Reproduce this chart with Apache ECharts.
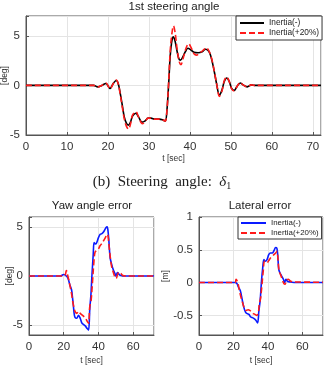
<!DOCTYPE html>
<html>
<head>
<meta charset="utf-8">
<script src="https://cdn.jsdelivr.net/npm/echarts@6/dist/echarts.min.js"></script>
<style>
html, body { margin: 0; padding: 0; background: #fff; }
#charts { width: 327px; height: 375px; }
</style>
</head>
<body>
<div id="charts"></div>
<script>
// 1st steering angle [deg] vs t [sec]
var steerBase = [[0,0],[15,0],[16.5,0],[17.5,-0.15],[18.5,0],[19.5,0.2],[20.5,-0.3],[21.3,0.2],[22,0.5],[22.5,0.2],[23,-0.8],[23.5,-2.0],[24,-3.2],[24.5,-3.8],[25,-4.0],[25.5,-3.7],[26,-3.1],[26.8,-2.8],[27.5,-3.2],[28.3,-3.7],[29,-3.6],[29.8,-3.3],[30.5,-3.3],[31.5,-3.4],[32.5,-3.4],[33.5,-3.5],[34,-3.6],[34.4,-2.5],[34.8,0],[35.2,3.0],[35.5,4.2],[35.9,4.9],[36.3,4.6],[36.8,3.6],[37.3,2.7],[37.7,2.55],[38.3,2.9],[38.9,3.4],[39.5,3.75],[40.2,3.6],[41,3.35],[42,3.3],[43,3.4],[43.8,3.65],[44.5,3.5],[45,3.1],[45.5,2.3],[46,1.3],[46.5,0.2],[47.2,-0.95],[47.8,-0.5],[48.4,0.4],[49,0.75],[49.6,0.4],[50.2,-0.3],[50.8,-0.5],[51.5,-0.1],[52.3,0.25],[53,0.05],[54,-0.15],[55,0.05],[56,0],[72,0]];
var steerHeavy = [[0,0],[15,0],[16.5,0],[17.5,-0.15],[18.5,0],[19.5,0.25],[20.5,-0.35],[21.3,0.2],[22,0.55],[22.5,0.2],[23,-0.9],[23.5,-2.2],[24,-3.4],[24.5,-4.1],[25,-4.4],[25.5,-3.9],[26,-3.0],[26.8,-2.65],[27.5,-3.2],[28.4,-3.85],[29,-3.7],[29.8,-3.3],[30.5,-3.3],[31.5,-3.4],[32.5,-3.4],[33.5,-3.5],[34,-3.6],[34.4,-2.5],[34.8,0.2],[35.2,3.5],[35.6,5.2],[36,6.0],[36.4,5.3],[36.9,3.6],[37.4,2.4],[37.8,2.1],[38.4,2.8],[39.1,3.8],[39.7,4.2],[40.3,3.8],[41,3.2],[41.6,3.05],[42.5,3.3],[43.4,3.6],[44,3.8],[44.6,3.5],[45.1,3.0],[45.6,2.2],[46.1,1.1],[46.6,0],[47.2,-1.1],[47.8,-0.6],[48.4,0.5],[49,0.85],[49.6,0.4],[50.2,-0.35],[50.8,-0.55],[51.5,-0.1],[52.3,0.3],[53,0.05],[54,-0.15],[55,0.05],[56,0],[72,0]];

// Yaw angle error [deg]
var yawBase = [[0,0],[18,0],[20,0.15],[21.5,0],[22.5,-0.25],[23.5,-0.9],[24.5,-1.4],[25,-2.1],[25.5,-2.9],[26,-3.8],[26.5,-4.2],[27.5,-4.3],[28.5,-4.0],[29.5,-4.3],[30.5,-4.8],[31.5,-4.95],[32.5,-5.1],[33.5,-5.35],[34.3,-5.5],[35,-3.4],[35.7,-1.8],[36.3,0.2],[37,2.2],[37.5,3.4],[38.3,3.25],[39,3.4],[40,3.9],[41,4.25],[42,4.3],[43,4.5],[44.3,4.9],[45,5.0],[45.5,4.6],[46,3.6],[46.7,1.9],[47.5,1.25],[48.5,0.65],[49.5,0.25],[50,0],[51,0.35],[52,0.15],[53,0.05],[55,0],[72,0]];
var yawHeavy = [[0,0],[20,0],[21,0.2],[21.5,0.55],[22.5,-0.1],[23.5,-0.9],[24.5,-1.8],[25.5,-2.9],[26.5,-3.6],[27.5,-3.8],[28.5,-3.6],[29.5,-3.8],[30.5,-3.95],[31.5,-4.1],[32.5,-4.3],[33.5,-4.6],[34.3,-4.8],[35,-3.1],[35.7,-2.6],[36.5,-0.8],[37.3,1.25],[38,2.4],[39,2.6],[40,2.75],[41,3.1],[42,3.3],[43,3.6],[44,3.9],[45,4.25],[45.5,4.1],[46,3.25],[46.7,2.1],[47.5,1.05],[48.5,0.4],[49.5,-0.1],[50.2,-0.25],[51,0.15],[52,0.4],[53,0.25],[54,0.05],[56,0],[72,0]];

// Lateral error [m]
var latBase = [[0,0],[20,0],[21,0],[22,-0.015],[23,-0.075],[24,-0.125],[25,-0.25],[26,-0.375],[27,-0.45],[28,-0.475],[29,-0.485],[30,-0.525],[31,-0.535],[32,-0.55],[33,-0.575],[34,-0.615],[34.8,-0.425],[35.5,-0.275],[36.3,0.025],[37,0.225],[37.7,0.35],[38.5,0.325],[39.5,0.35],[40.5,0.425],[41.5,0.45],[42.5,0.45],[43.5,0.485],[44.5,0.535],[45.2,0.525],[45.7,0.425],[46.3,0.2],[47,0.15],[48,0.1],[49,0.05],[49.7,0],[50.5,0.05],[51.5,0.015],[53,0.01],[56,0],[72,0]];
var latHeavy = [[0,0],[21,0],[21.5,0.05],[22.5,0],[23.5,-0.125],[24.5,-0.235],[25.5,-0.325],[26.5,-0.4],[27.5,-0.425],[28.5,-0.415],[29.5,-0.425],[30.5,-0.45],[31.5,-0.475],[32.5,-0.485],[33.5,-0.5],[34.5,-0.45],[35,-0.325],[35.7,-0.25],[36.5,-0.05],[37.3,0.175],[38,0.325],[38.8,0.315],[39.5,0.3],[40.5,0.335],[41.5,0.375],[42.5,0.4],[43.5,0.425],[44.5,0.45],[45.3,0.475],[45.8,0.375],[46.5,0.175],[47.3,0.125],[48.3,0.05],[49.3,-0.015],[50,-0.025],[50.8,0.035],[51.8,0.05],[53,0.025],[55,0.01],[72,0.005]];

var legendNames = ['Inertia(-)', 'Inertia(+20%)'];

var axisColor = '#555';
var labelColor = '#333';
var gridLineColor = '#e4e4e4';

function makeX(idx, interval, gap) {
	return {
		type: 'value', gridIndex: idx, min: 0, max: 72, interval: interval,
		name: 't [sec]', nameLocation: 'middle', nameGap: gap, nameMoveOverlap: false,
		nameTextStyle: { fontSize: 8.5, color: labelColor, fontFamily: 'Liberation Sans' },
		axisLine: { show: true, onZero: false, lineStyle: { color: axisColor } },
		axisTick: { show: true, inside: true, length: 3, lineStyle: { color: axisColor } },
		axisLabel: { fontSize: 11.5, color: labelColor, margin: 6, showMaxLabel: false, fontFamily: 'Liberation Sans' },
		splitLine: { show: true, lineStyle: { color: gridLineColor } }
	};
}

function makeY(idx, min, max, split, step, name, gap) {
	return {
		type: 'value', gridIndex: idx, min: min, max: max, splitNumber: split,
		name: name, nameLocation: 'middle', nameGap: gap, nameMoveOverlap: false,
		nameTextStyle: { fontSize: 8.5, color: labelColor, fontFamily: 'Liberation Sans' },
		axisLine: { show: true, onZero: false, lineStyle: { color: axisColor } },
		axisTick: { show: true, inside: true, length: 3, lineStyle: { color: axisColor } },
		axisLabel: { fontSize: 11.5, color: labelColor, margin: 6, fontFamily: 'Liberation Sans',
			showMinLabel: true, showMaxLabel: true,
			formatter: function (v) {
				// only round ticks get a label, not the bare extent
				var k = v / step;
				if (Math.abs(k - Math.round(k)) > 1e-6) return '';
				return v;
			}
		},
		splitLine: { show: true, lineStyle: { color: gridLineColor } }
	};
}

function line(name, data, xi, color, dashed) {
	return {
		name: name, type: 'line', xAxisIndex: xi, yAxisIndex: xi,
		data: data, symbol: 'none', showSymbol: false, smooth: 0.35,
		lineStyle: { color: color, width: 1.6, type: dashed ? [6, 3] : 'solid' },
		itemStyle: { color: color }
	};
}

var myChart = echarts.init(document.getElementById('charts'));

var titleFont = { fontSize: 11.5, fontWeight: 'normal', color: '#222', fontFamily: 'Liberation Sans' };

option = {
	animation: false,
	backgroundColor: '#fff',
	title: [
		{ text: '1st steering angle', left: 174, top: 1, padding: 0, textAlign: 'center', textStyle: titleFont },
		{ text: '{n|(b)  Steering  angle:  }{d|δ}{s|1}', left: 162, top: 173, padding: 0, textAlign: 'center',
			textStyle: { fontWeight: 'normal', rich: {
				n: { fontSize: 15, fontFamily: 'Liberation Serif', fontWeight: 'normal', color: '#222' },
				d: { fontSize: 15, fontFamily: 'Liberation Serif', fontWeight: 'normal', fontStyle: 'italic', color: '#222' },
				s: { fontSize: 10, fontFamily: 'Liberation Serif', fontWeight: 'normal', color: '#222', padding: [8, 0, 0, 0] }
			} } },
		{ text: 'Yaw angle error', left: 92, top: 200, padding: 0, textAlign: 'center', textStyle: titleFont },
		{ text: 'Lateral error', left: 260, top: 200, padding: 0, textAlign: 'center', textStyle: titleFont }
	],
	legend: [
		{ data: legendNames, orient: 'vertical', left: 236, top: 16, padding: [3, 3, 3, 3], itemGap: 2,
			itemWidth: 24, itemHeight: 8, backgroundColor: '#fff', borderColor: '#333', borderWidth: 1,
			itemStyle: { opacity: 0 },
			textStyle: { fontSize: 8.3, color: '#222', fontFamily: 'Liberation Sans' } },
		{ data: ['Inertia(-)#b', 'Inertia(+20%)#b'], orient: 'vertical', left: 238, top: 217, padding: [2, 3, 2, 2], itemGap: 2,
			itemWidth: 25, itemHeight: 8, backgroundColor: '#fff', borderColor: '#333', borderWidth: 1,
			itemStyle: { opacity: 0 },
			formatter: function (n) { return n.replace('#b', ''); },
			textStyle: { fontSize: 7.9, color: '#222', fontFamily: 'Liberation Sans' } }
	],
	grid: [
		{ left: 26, top: 16, width: 295, height: 119, show: true, borderColor: axisColor, borderWidth: 1, outerBoundsMode: 'none' },
		{ left: 29, top: 217, width: 125, height: 118, show: true, borderColor: axisColor, borderWidth: 1, outerBoundsMode: 'none' },
		{ left: 199, top: 217, width: 124, height: 118, show: true, borderColor: axisColor, borderWidth: 1, outerBoundsMode: 'none' }
	],
	xAxis: [ makeX(0, 10, 19.5), makeX(1, 20, 21), makeX(2, 20, 21) ],
	yAxis: [
		makeY(0, -5, 7, 2, 5, '[deg]', 16.5),
		makeY(1, -6, 6, 2, 5, '[deg]', 15),
		makeY(2, -0.8, 1, 4, 0.5, '[m]', 29)
	],
	series: [
		line('Inertia(-)', steerBase, 0, '#000', false),
		line('Inertia(+20%)', steerHeavy, 0, '#ff1a1a', true),
		line('Inertia(-)#b', yawBase, 1, '#0a1aff', false),
		line('Inertia(+20%)#b', yawHeavy, 1, '#ff1a1a', true),
		line('Inertia(-)#b', latBase, 2, '#0a1aff', false),
		line('Inertia(+20%)#b', latHeavy, 2, '#ff1a1a', true)
	]
};
myChart.setOption(option, true);
</script>
</body>
</html>
